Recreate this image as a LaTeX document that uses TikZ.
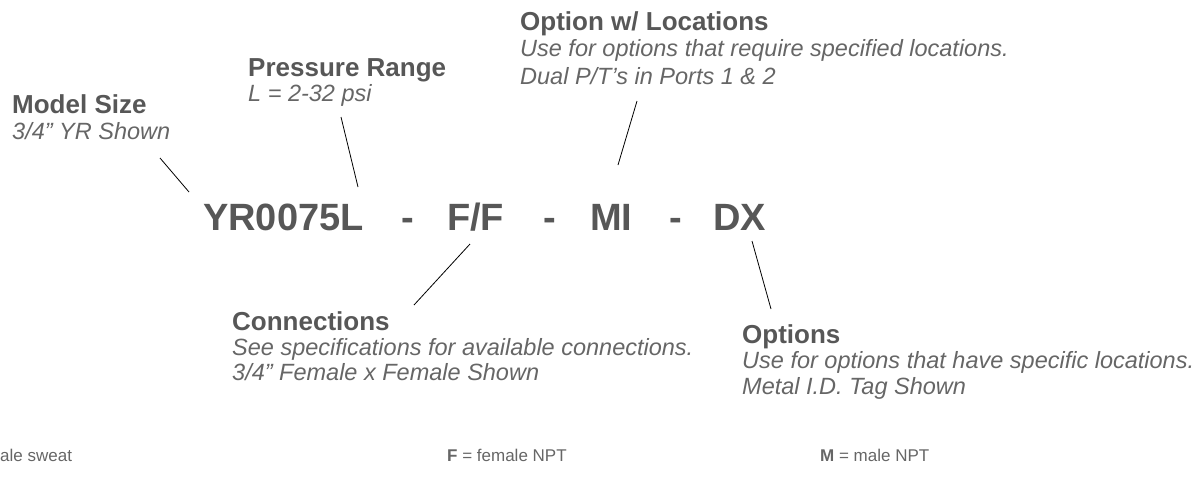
\documentclass[tikz,border=0pt]{standalone}
\usepackage{fontspec}
\setmainfont{Liberation Sans}
\usepackage{tikz}
\definecolor{inkgray}{HTML}{575757}
\definecolor{notegray}{HTML}{666666}

\begin{document}
\begin{tikzpicture}[x=1pt,y=-1pt]
    \tikzstyle{head}=[anchor=base west,inner sep=0pt,text=inkgray,font=\fontsize{26}{30}\selectfont\bfseries]
    \tikzstyle{note}=[anchor=base west,inner sep=0pt,text=notegray,font=\fontsize{23.5}{28}\selectfont\itshape]
    \tikzstyle{code}=[anchor=base west,inner sep=0pt,text=inkgray,font=\fontsize{38}{44}\selectfont\bfseries]
    \tikzstyle{key}=[anchor=base west,inner sep=0pt,text=notegray,font=\fontsize{17}{20}\selectfont]
    \tikzstyle{lead}=[line width=0.8pt,black]
    \useasboundingbox (0,0) rectangle (1204,480);

    % part number
    \node[code] (yr) at (203,230) {YR0075L};
    \node[code] (d1) at (401,230) {-};
    \node[code] (ff) at (447,230) {F/F};
    \node[code] (d2) at (543,230) {-};
    \node[code] (mi) at (590,230) {MI};
    \node[code] (d3) at (669,230) {-};
    \node[code] (dx) at (713,230) {DX};

    % labels
    \node[head] (size) at (12,113) {Model Size};
    \node[note] (size-a) at (12,139) {3/4” YR Shown};
    \node[head] (range) at (248,76) {Pressure Range};
    \node[note] (range-a) at (248,101) {L = 2-32 psi};
    \node[head] (loc) at (520,30) {Option w/ Locations};
    \node[note] (loc-a) at (520,56) {Use for options that require specified locations.};
    \node[note] (loc-b) at (520,84) {Dual P/T’s in Ports 1 \& 2};
    \node[head] (conn) at (232,330) {Connections};
    \node[note] (conn-a) at (232,355) {See specifications for available connections.};
    \node[note] (conn-b) at (232,380) {3/4” Female x Female Shown};
    \node[head] (opt) at (742,343) {Options};
    \node[note] (opt-a) at (742,368) {Use for options that have specific locations.};
    \node[note] (opt-b) at (742,394) {Metal I.D. Tag Shown};

    % key
    \node[key] (k1) at (0,461) {ale sweat};
    \node[key] (k2) at (447,461) {\textbf{F} = female NPT};
    \node[key] (k3) at (820,461) {\textbf{M} = male NPT};

    % leaders
    \coordinate (size-p) at (160,158);
    \coordinate (yr-p) at (189,192);
    \coordinate (range-p) at (341,117);
    \coordinate (yr-q) at (358,187);
    \coordinate (loc-p) at (637,101);
    \coordinate (mi-p) at (618,165);
    \coordinate (ff-p) at (470,244);
    \coordinate (conn-p) at (414,305);
    \coordinate (dx-p) at (752,241);
    \coordinate (opt-p) at (771,309);
    \foreach \from/\to in {size-p/yr-p, range-p/yr-q, loc-p/mi-p, ff-p/conn-p, dx-p/opt-p}
        \draw[lead] (\from) -- (\to);
\end{tikzpicture}
\end{document}
